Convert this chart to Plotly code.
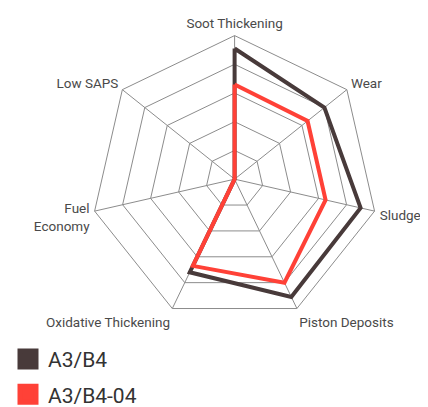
import plotly.graph_objects as go

categories = ["Soot Thickening", "Wear", "Sludge", "Piston Deposits",
              "Oxidative Thickening", "Fuel<br>Economy", "Low SAPS"]
series_names = ["A3/B4", "A3/B4-04"]
a3b4 = [91, 80, 90, 91, 72, 0, 0]
a3b4_04 = [66, 65, 65, 80, 67, 0, 0]
colors = ["#483a3a", "#ff4137"]

fig = go.Figure()
for name, vals, col in zip(series_names, [a3b4, a3b4_04], colors):
    fig.add_trace(go.Scatterpolar(
        r=vals + vals[:1], theta=categories + categories[:1],
        mode="lines", line=dict(color=col, width=4),
        showlegend=False, hoverinfo="skip"))
for i, (name, col) in enumerate(zip(series_names, colors)):
    fig.add_trace(go.Scatterpolar(
        r=[None], theta=[categories[0]], mode="markers", name=name,
        marker=dict(symbol="square", size=16, color=col,
                    line=dict(color=col, width=5)),
        legendgroup=f"g{i}", showlegend=True))

fig.update_layout(
    width=428, height=407,
    margin=dict(l=0, r=0, t=0, b=0),
    paper_bgcolor="white", plot_bgcolor="white",
    font=dict(family="Roboto, Liberation Sans, sans-serif", color="#444"),
    polar=dict(
        domain=dict(x=[0.1722, 0.8778], y=[0.1867, 0.9287]),
        bgcolor="white",
        gridshape="linear",
        angularaxis=dict(direction="clockwise", rotation=90,
                         gridcolor="#8c8c8c", gridwidth=1,
                         linecolor="#8c8c8c", linewidth=1,
                         showline=True, ticks="outside", ticklen=2,
                         tickcolor="rgba(0,0,0,0)",
                         tickfont=dict(size=13.5, color="#4a4a4a")),
        radialaxis=dict(range=[0, 100], dtick=20, showticklabels=False,
                        showline=False, ticks="",
                        gridcolor="#8c8c8c", gridwidth=1),
    ),
    legend=dict(x=-0.01, y=0.145, xanchor="left", yanchor="top",
                orientation="v", font=dict(size=21, color="#333"),
                traceorder="grouped", tracegroupgap=5,
                itemsizing="trace"),
    showlegend=True,
)
fig.write_html("out.html")
